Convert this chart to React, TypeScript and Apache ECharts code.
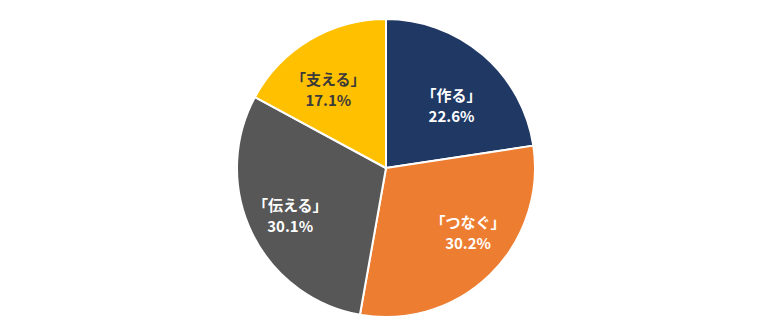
import React, { useEffect, useRef } from "react";
import * as echarts from "echarts";

const categories = ["「作る」", "「つなぐ」", "「伝える」", "「支える」"];
const values = [22.6, 30.2, 30.1, 17.1];
const colors = ["#203864", "#ED7D31", "#575757", "#FFC000"];
const labelColors = ["#ffffff", "#ffffff", "#ffffff", "#3a3a3a"];
const labelShift: [number, number][] = [[15, -4], [28, 9], [-26, 13], [-18, -12]];

export default function App() {
  const ref = useRef<HTMLDivElement>(null);
  useEffect(() => {
    document.body.style.margin = "0";
    const chart = echarts.init(ref.current!, null, { renderer: "svg" });
    chart.setOption({
      animation: false,
      backgroundColor: "#ffffff",
      series: [
        {
          type: "pie",
          center: [386, 168],
          radius: [0, 149],
          startAngle: 90,
          clockwise: true,
          avoidLabelOverlap: false,
          itemStyle: { borderColor: "#ffffff", borderWidth: 2 },
          label: {
            show: true,
            position: "inside",
            formatter: (p: any) => `${p.name}\n${p.value.toFixed(1)}%`,
            fontFamily: "'Noto Sans CJK JP', sans-serif",
            fontSize: 15,
            fontWeight: "bold",
            lineHeight: 21,
            align: "center",
          },
          labelLine: { show: false },
          labelLayout: (params: any) => ({
            dx: labelShift[params.dataIndex][0],
            dy: labelShift[params.dataIndex][1],
          }),
          data: categories.map((c, i) => ({
            name: c,
            value: values[i],
            itemStyle: { color: colors[i] },
            label: { color: labelColors[i] },
          })),
        },
      ],
    });
    return () => chart.dispose();
  }, []);
  return <div ref={ref} style={{ width: 783, height: 331 }} />;
}
